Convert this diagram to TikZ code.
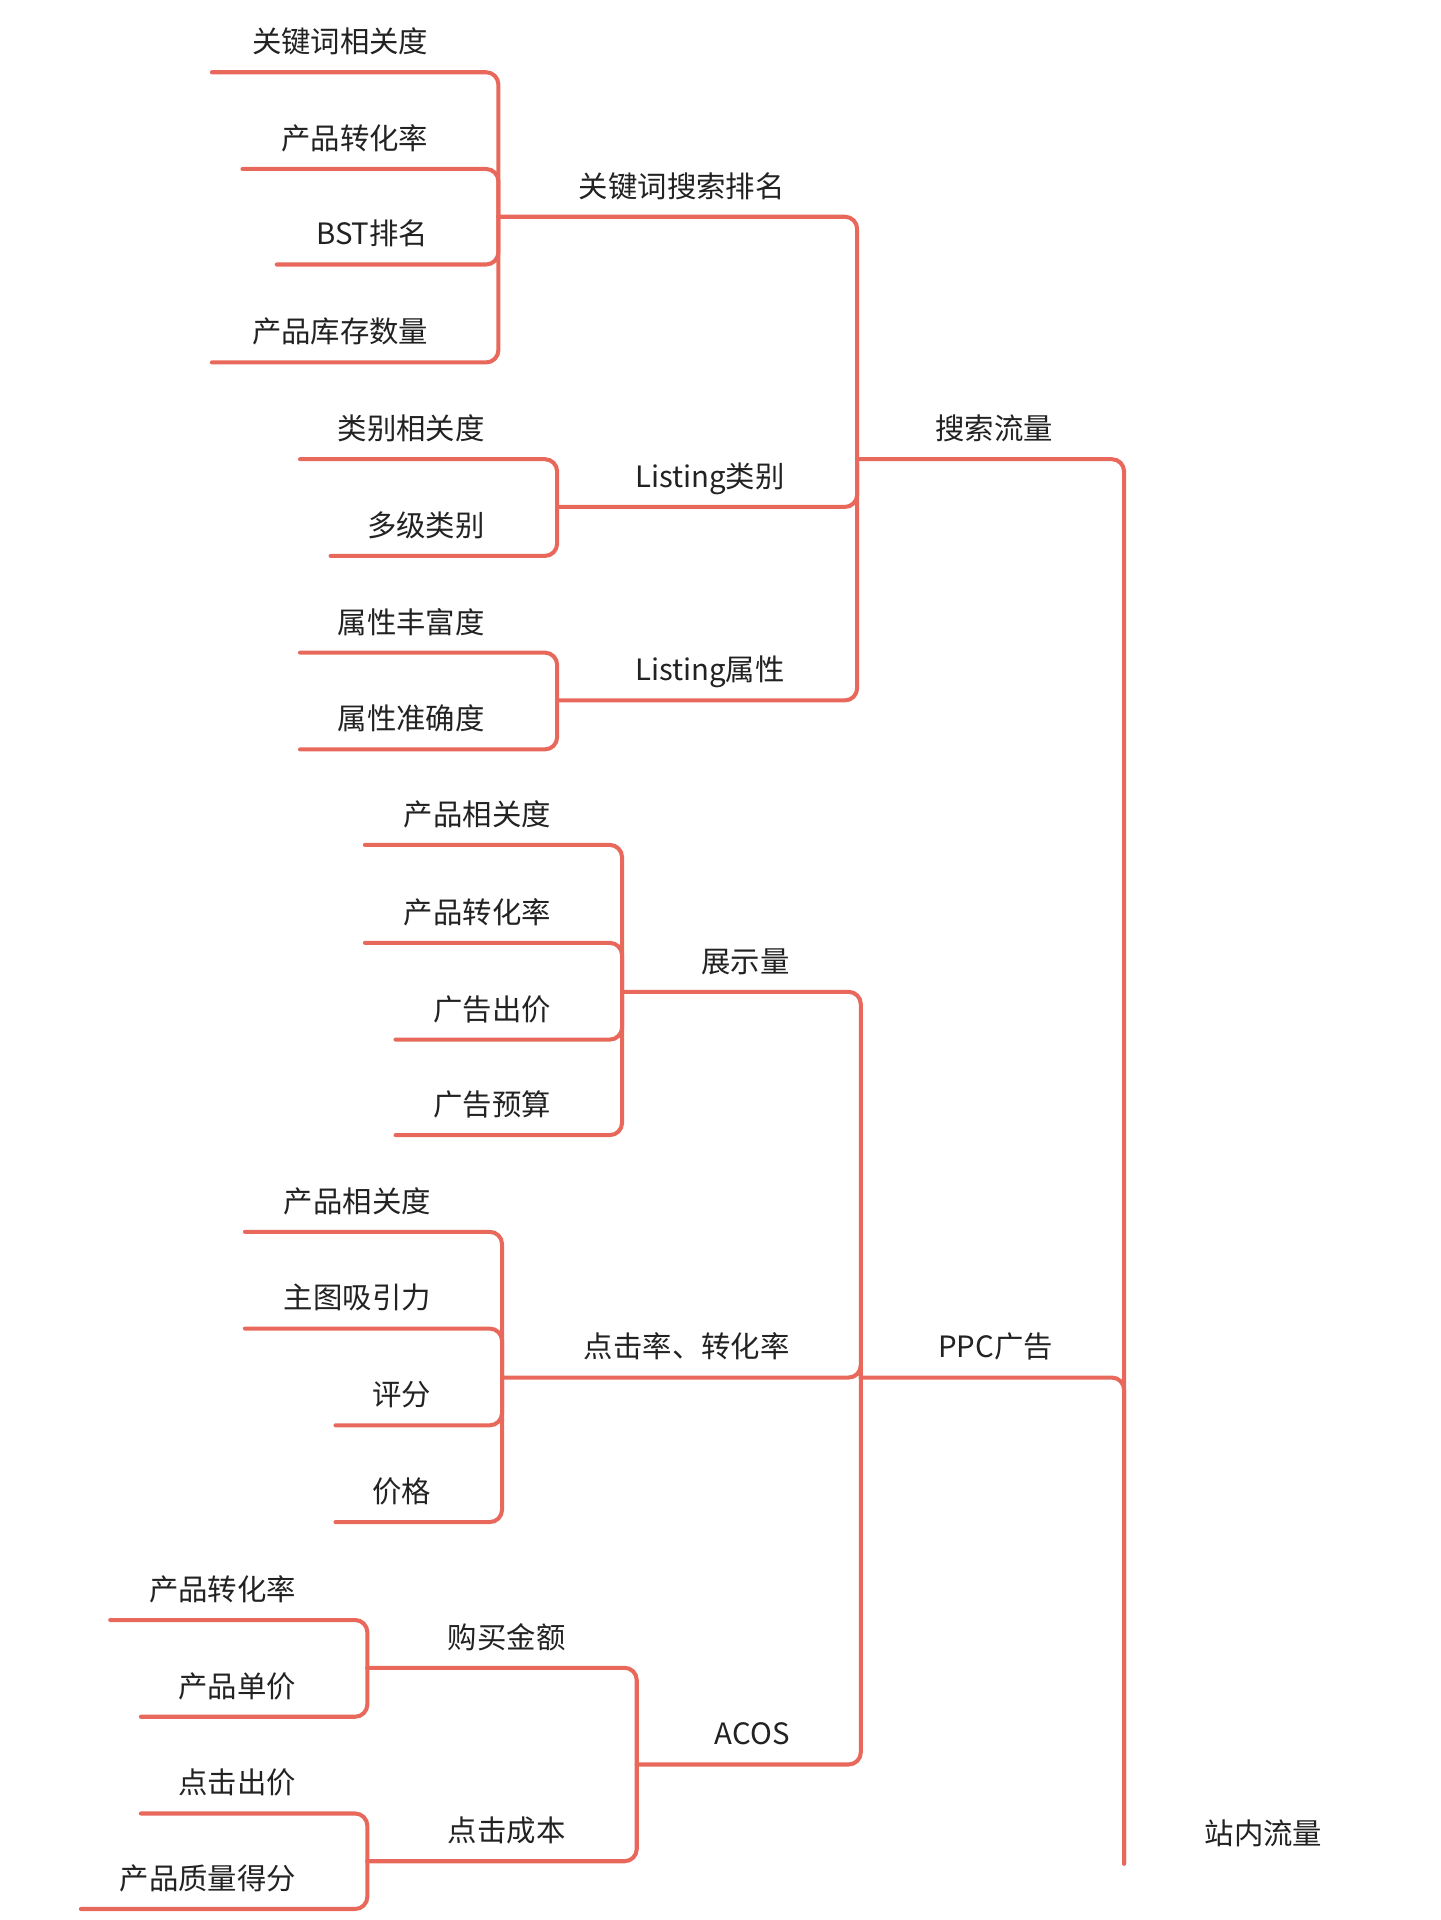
\documentclass[tikz,border=0pt]{standalone}
\usepackage{fontspec}
\setmainfont{Noto Sans CJK SC}
\definecolor{brc}{HTML}{E8695C}
\definecolor{txc}{HTML}{222222}
\newcommand{\mmnode}[6]{%
  \node[lbl, anchor=base east] (#1) at (#3,#4-16) {#2};
  \coordinate (#1-s) at (#5,#4);
  \draw[br] (#1-s) -| (#6-s);
}
\begin{document}
\begin{tikzpicture}[x=1pt,y=-1pt,
  lbl/.style={inner sep=0pt, text=txc, font=\fontsize{24}{28}\selectfont},
  br/.style={draw=brc, line width=3.3pt, rounded corners=10pt, line cap=round}]
\useasboundingbox[fill=white] (0,0) rectangle (1176,1568);
% root
\node[lbl, anchor=base east] (root) at (1080,1506) {站内流量};
\coordinate (root-s) at (918,1522);
% level 1
\mmnode{ss}{搜索流量}{860}{375}{700}{root}
\mmnode{ppc}{PPC广告}{860}{1125}{703}{root}
% under 搜索流量
\mmnode{kw}{关键词搜索排名}{641}{177}{407}{ss}
\mmnode{lc}{Listing类别}{641}{414}{455}{ss}
\mmnode{la}{Listing属性}{641}{572}{455}{ss}
% under 关键词搜索排名
\mmnode{a1}{关键词相关度}{350}{59}{173}{kw}
\mmnode{a2}{产品转化率}{350}{138}{198}{kw}
\mmnode{a3}{BST排名}{350}{216}{226}{kw}
\mmnode{a4}{产品库存数量}{350}{296}{173}{kw}
% under Listing类别
\mmnode{b1}{类别相关度}{396}{375}{245}{lc}
\mmnode{b2}{多级类别}{396}{454}{270}{lc}
% under Listing属性
\mmnode{c1}{属性丰富度}{396}{533}{245}{la}
\mmnode{c2}{属性准确度}{396}{612}{245}{la}
% under PPC广告
\mmnode{zs}{展示量}{645}{810}{508}{ppc}
\mmnode{dj}{点击率、转化率}{645}{1125}{410}{ppc}
\mmnode{ac}{ACOS}{645}{1441}{520}{ppc}
% under 展示量
\mmnode{d1}{产品相关度}{450}{690}{298}{zs}
\mmnode{d2}{产品转化率}{450}{770}{298}{zs}
\mmnode{d3}{广告出价}{450}{849}{323}{zs}
\mmnode{d4}{广告预算}{450}{927}{323}{zs}
% under 点击率、转化率
\mmnode{e1}{产品相关度}{352}{1006}{200}{dj}
\mmnode{e2}{主图吸引力}{352}{1085}{200}{dj}
\mmnode{e3}{评分}{352}{1164}{274}{dj}
\mmnode{e4}{价格}{352}{1243}{274}{dj}
% under ACOS
\mmnode{gm}{购买金额}{462}{1362}{300}{ac}
\mmnode{dc}{点击成本}{462}{1520}{300}{ac}
% under 购买金额
\mmnode{f1}{产品转化率}{242}{1323}{90}{gm}
\mmnode{f2}{产品单价}{242}{1402}{115}{gm}
% under 点击成本
\mmnode{g1}{点击出价}{242}{1481}{115}{dc}
\mmnode{g2}{产品质量得分}{242}{1559}{66}{dc}
\end{tikzpicture}
\end{document}
